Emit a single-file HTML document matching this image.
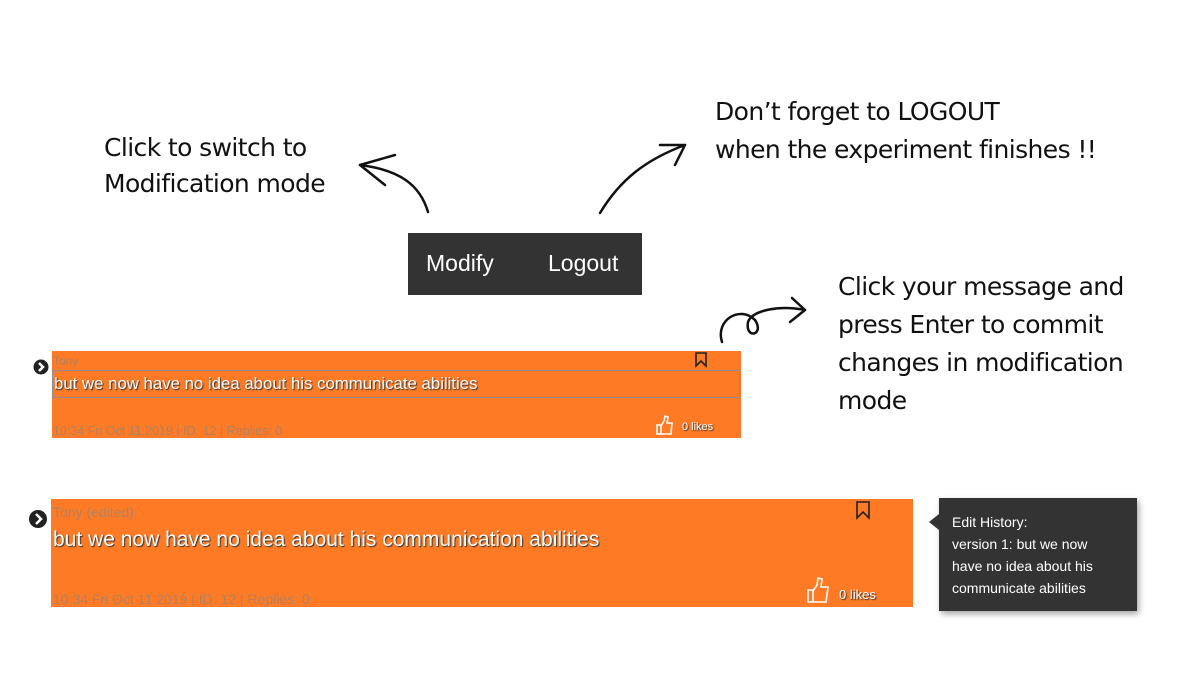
<!DOCTYPE html>
<html><head><meta charset="utf-8"><style>
body{margin:0;width:1200px;height:700px;background:#fff;position:relative;overflow:hidden;font-family:"Liberation Sans",sans-serif}
.a{position:absolute}
.hand{font-family:"DejaVu Sans","Liberation Sans",sans-serif;color:#111;font-size:25px;line-height:36px;letter-spacing:-0.6px}
.card{background:#fe7a24;position:absolute}
.meta{color:#b08260;position:absolute}
.wt{color:#fff;text-shadow:1px 1px 1px #333;position:absolute;white-space:nowrap}
</style></head><body>
<div class="a hand" style="left:104px;top:130px;">Click to switch to<br>Modification mode</div>
<div class="a hand" style="left:715px;top:93px;line-height:38px">Don’t forget to LOGOUT<br>when the experiment finishes !!</div>
<div class="a hand" style="left:838px;top:268px;line-height:38px">Click your message and<br>press Enter to commit<br>changes in modification<br>mode</div>
<div class="a" style="left:408px;top:233px;width:234px;height:62px;background:#333"></div>
<div class="a" style="left:426px;top:250px;color:#fff;font-size:23px">Modify</div>
<div class="a" style="left:548px;top:250px;color:#fff;font-size:23px">Logout</div>

<div class="card" style="left:52px;top:351px;width:689px;height:87px"></div>
<div class="meta" style="left:53px;top:354px;font-size:12px">Tony</div>
<div class="a" style="left:52px;top:370px;width:686px;height:26px;border:1px solid #8a8aa0"></div>
<div class="wt" style="left:54px;top:374px;font-size:16.8px">but we now have no idea about his communicate abilities</div>
<div class="meta" style="left:53px;top:424px;font-size:12.5px">10:34 Fri Oct 11 2019 | ID: 12 | Replies: 0</div>
<div class="wt" style="left:682px;top:421px;font-size:11px">0 likes</div>

<div class="card" style="left:51px;top:499px;width:862px;height:108px"></div>
<div class="meta" style="left:53px;top:504px;font-size:14px">Tony (edited)</div>
<div class="wt" style="left:53px;top:528px;font-size:21px">but we now have no idea about his communication abilities</div>
<div class="meta" style="left:53px;top:591px;font-size:14px">10:34 Fri Oct 11 2019 | ID: 12 | Replies: 0</div>
<div class="wt" style="left:839px;top:587px;font-size:13px">0 likes</div>

<div class="a" style="left:939px;top:498px;width:198px;height:113px;background:#333;box-shadow:2px 3px 6px rgba(0,0,0,.35)"></div>
<div class="a" style="left:929px;top:514px;width:0;height:0;border-top:8px solid transparent;border-bottom:8px solid transparent;border-right:10px solid #333"></div>
<div class="a" style="left:952px;top:511px;color:#fff;font-size:14px;line-height:22px">Edit History:<br>version 1: but we now<br>have no idea about his<br>communicate abilities</div>
<svg class="a" style="left:0;top:0" width="1200" height="700">
<g fill="none" stroke="#111" stroke-width="2.5" stroke-linecap="round">
<path d="M428 212 C420 185 400 170 360 165"/><path d="M360 165 L395 155 M360 165 L385 185"/>
<path d="M600 213 C620 180 645 160 685 145"/><path d="M685 145 L660 145 M685 145 L675 165"/>
<path d="M722 342 C715 320 740 305 755 320 C765 335 745 340 748 322 C752 310 780 305 805 310"/><path d="M805 310 L792 298 M805 310 L790 322"/>
</g>
<g fill="#222"><circle cx="41" cy="367" r="7.5"/><circle cx="38" cy="519" r="9"/></g>
<g fill="none" stroke="#fff" stroke-width="2.5"><path d="M39 363 L43 367 L39 371"/><path d="M36 514 L41 519 L36 524"/></g>
<g fill="none" stroke="#222" stroke-width="1.6">
<path d="M696 353 L706 353 L706 366 L701 361 L696 366 Z"/>
<path d="M857 502 L869 502 L869 518 L863 512 L857 518 Z"/>
</g>
<g fill="none" stroke="#fff" stroke-width="1.6">
<path d="M657 425 L661 425 L661 434 L657 434 Z M661 426 L664 421 L665 416 L668 417 L667 423 L672 423 L671 434 L661 434"/>
<path d="M808 590 L813 590 L813 602 L808 602 Z M813 591 L817 585 L818 578 L822 579 L821 587 L828 587 L826 602 L813 602"/>
</g>
</svg>
</body></html>
